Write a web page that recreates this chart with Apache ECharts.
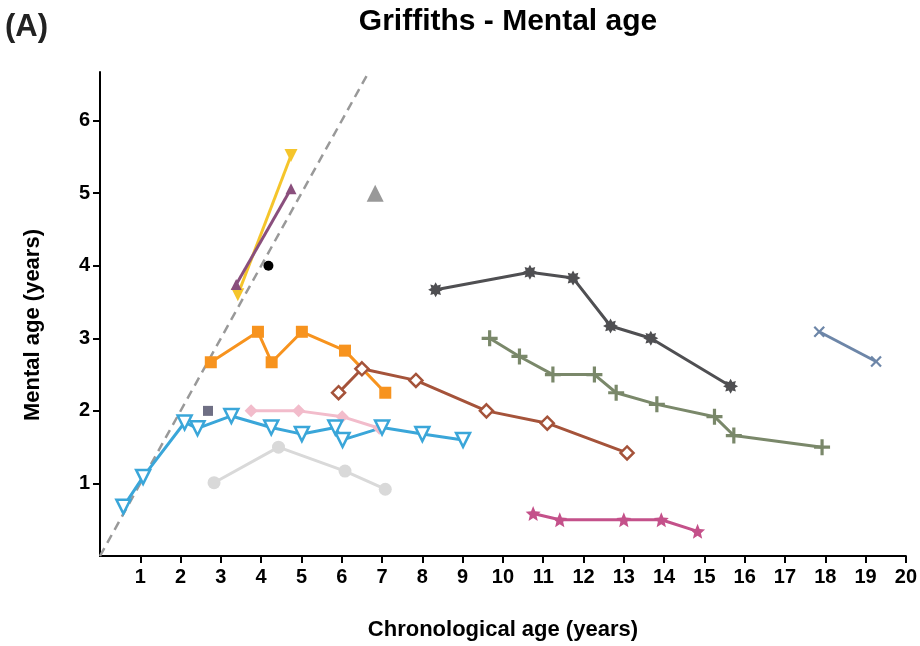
<!DOCTYPE html>
<html><head><meta charset="utf-8">
<script src="https://cdn.jsdelivr.net/npm/echarts@6/dist/echarts.min.js"></script>
<style>html,body{margin:0;padding:0;background:#fff}#c{width:920px;height:646px}</style>
</head><body><div id="c"></div>
<script>
// ---- data ----
const xTicks = [1,2,3,4,5,6,7,8,9,10,11,12,13,14,15,16,17,18,19,20];
const yTicks = [1,2,3,4,5,6];
const diagX = [0, 6.68];
const diagY = [0, 6.68];

const blueX = [0.58,1.07,2.10,2.42,3.26,4.25,5.01,5.84,6.02,7.00,8.00,9.01];
const blueY = [0.68,1.09,1.84,1.76,1.93,1.77,1.68,1.77,1.60,1.77,1.68,1.60];
const orangeX = [2.75,3.92,4.26,5.01,6.08,7.08];
const orangeY = [2.67,3.09,2.67,3.09,2.83,2.25];
const brownX = [5.92,6.50,7.84,9.59,11.10,13.08];
const brownY = [2.25,2.58,2.42,2.00,1.83,1.42];
const pinkX = [3.75,4.93,6.01,6.93];
const pinkY = [2.00,2.00,1.92,1.76];
const lgrayX = [2.83,4.43,6.08,7.08];
const lgrayY = [1.01,1.50,1.17,0.92];
const slateX = [2.68];
const slateY = [2.00];
const yellowX = [3.42,4.74];
const yellowY = [3.60,5.52];
const purpleX = [3.38,4.74];
const purpleY = [3.74,5.06];
const blackX = [4.18];
const blackY = [4.00];
const greyTriX = [6.83];
const greyTriY = [5.00];
const dgrayX = [8.33,10.67,11.74,12.67,13.67,15.65];
const dgrayY = [3.67,3.91,3.83,3.17,3.00,2.34];
const greenX = [9.67,10.41,11.24,12.27,12.81,13.82,15.25,15.73,17.92];
const greenY = [3.00,2.75,2.50,2.50,2.25,2.09,1.92,1.66,1.50];
const bgrayX = [17.85,19.26];
const bgrayY = [3.09,2.68];
const magX = [10.75,11.41,13.00,13.93,14.83];
const magY = [0.585,0.50,0.50,0.50,0.34];

// ---- helpers ----
function zip(xs, ys){ return xs.map((x,i)=>[x, ys[i]]); }
function starPath(n, inner){
  let p = [];
  for (let i=0;i<2*n;i++){
    const r = (i%2===0)?50:50*inner;
    const a = Math.PI*i/n - Math.PI/2;
    p.push((50+r*Math.cos(a)).toFixed(2)+','+(50+r*Math.sin(a)).toFixed(2));
  }
  return 'path://M'+p.join('L')+'Z';
}
const plusPath = 'path://M40,0H60V40H100V60H60V100H40V60H0V40H40Z';
const thinPlus = 'path://M42,0H58V42H100V58H58V100H42V58H0V42H42Z';

function mk(name, xs, ys, color, symbol, size, extra){
  extra = extra || {};
  return Object.assign({
    name: name, type: 'line', data: zip(xs, ys),
    symbol: symbol, symbolSize: size,
    lineStyle: {color: color, width: 3},
    itemStyle: {color: color},
    emphasis: {disabled: true},
    z: 3
  }, extra);
}

const chart = echarts.init(document.getElementById('c'), null, {renderer: 'canvas'});
const FONT = '"Liberation Sans", Arial, sans-serif';

chart.setOption({
  animation: false,
  backgroundColor: '#fff',
  title: [{
    text: 'Griffiths - Mental age', left: 503, top: 2, textAlign: 'center',
    textStyle: {fontFamily: FONT, fontWeight: 'bold', fontSize: 30, color: '#000'}
  },{
    text: '(A)', left: 0, top: 7,
    textStyle: {fontFamily: FONT, fontWeight: 'bold', fontSize: 31, color: '#222'}
  }],
  grid: {left: 100, right: 12, top: 72, bottom: 90, containLabel: false},
  xAxis: {
    type: 'value', min: 0, max: 20, interval: 1,
    name: 'Chronological age (years)', nameLocation: 'middle', nameGap: 63,
    nameTextStyle: {fontFamily: FONT, fontWeight: 'bold', fontSize: 22, color: '#000'},
    axisLine: {show: true, onZero: false, lineStyle: {color: '#000', width: 2}},
    axisTick: {show: true, length: 7, lineStyle: {color: '#000', width: 2}, customValues: xTicks},
    axisLabel: {fontFamily: FONT, fontWeight: 'bold', fontSize: 20, color: '#000', margin: 11, customValues: xTicks},
    splitLine: {show: false}
  },
  yAxis: {
    type: 'value', min: 0, max: 6.67, interval: 1,
    name: 'Mental age (years)', nameLocation: 'middle', nameGap: 56, nameRotate: 90,
    nameTextStyle: {fontFamily: FONT, fontWeight: 'bold', fontSize: 22, color: '#000', padding: [0, 22, 0, 0]},
    axisLine: {show: true, onZero: false, lineStyle: {color: '#000', width: 2}},
    axisTick: {show: true, length: 7, lineStyle: {color: '#000', width: 2}, customValues: yTicks},
    axisLabel: {fontFamily: FONT, fontWeight: 'bold', fontSize: 20, color: '#000', margin: 10, customValues: yTicks},
    splitLine: {show: false}
  },
  series: [
    {type: 'line', data: zip(diagX, diagY), symbol: 'none', z: 1,
     lineStyle: {color: '#999999', width: 2.5, type: [9, 6]}, emphasis: {disabled: true}},
    mk('lgray', lgrayX, lgrayY, '#d9d9d9', 'circle', 13),
    mk('pink', pinkX, pinkY, '#f2bccb', 'diamond', 13),
    mk('orange', orangeX, orangeY, '#f7931e', 'rect', 12),
    mk('brown', brownX, brownY, '#a5533a', 'diamond', 13, {itemStyle: {color: '#fff', borderColor: '#a5533a', borderWidth: 2.5}}),
    mk('blue', blueX, blueY, '#3aa6d9', 'triangle', 14, {symbolRotate: 180, itemStyle: {color: '#fff', borderColor: '#3aa6d9', borderWidth: 2.5}}),
    mk('slate', slateX, slateY, '#6f6f84', 'rect', 10),
    mk('yellow', yellowX, yellowY, '#f5c52b', 'triangle', 13, {symbolRotate: 180}),
    mk('purple', purpleX, purpleY, '#8a4f7d', 'triangle', 11),
    mk('black', blackX, blackY, '#000000', 'circle', 10),
    mk('greytri', greyTriX, greyTriY, '#999999', 'triangle', 17),
    mk('dgray', dgrayX, dgrayY, '#4f4f52', starPath(8, 0.62), 15),
    mk('green', greenX, greenY, '#7a886a', plusPath, 16),
    mk('bgray', bgrayX, bgrayY, '#6d86a8', thinPlus, 14, {symbolRotate: 45}),
    mk('mag', magX, magY, '#c4518a', starPath(5, 0.45), 15)
  ]
});
</script></body></html>
